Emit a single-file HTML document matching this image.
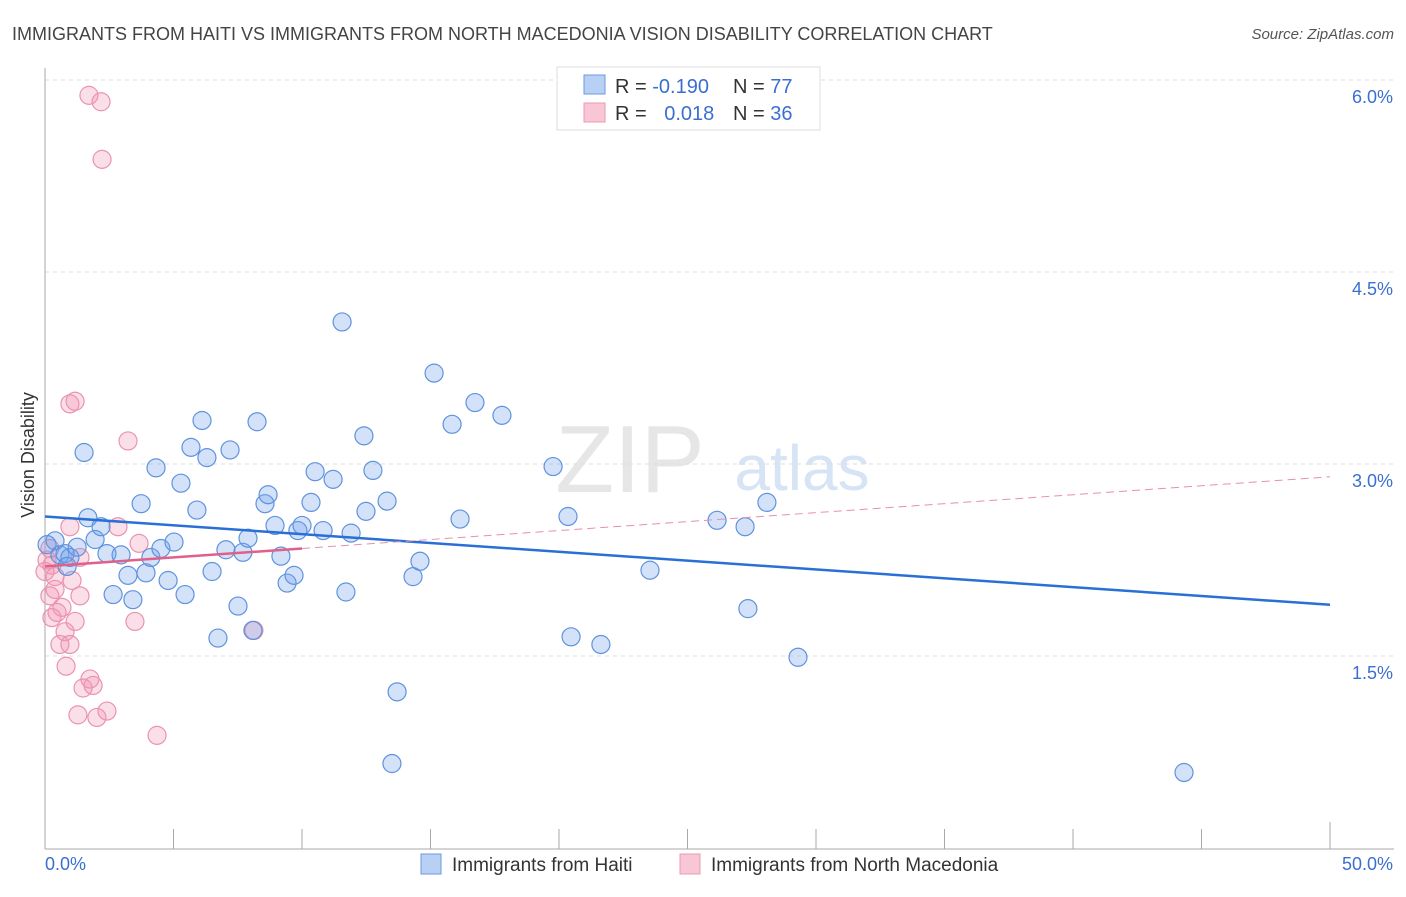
<!DOCTYPE html>
<html><head><meta charset="utf-8"><style>
body{margin:0;background:#fff;font-family:"Liberation Sans",sans-serif;}
svg text{font-family:"Liberation Sans",sans-serif;}
</style></head><body>
<svg width="1406" height="892" xmlns="http://www.w3.org/2000/svg" id="chart">
<text x="12" y="40" font-size="18" fill="#444">IMMIGRANTS FROM HAITI VS IMMIGRANTS FROM NORTH MACEDONIA VISION DISABILITY CORRELATION CHART</text>
<text x="1394" y="39" font-size="15" fill="#555" font-style="italic" text-anchor="end">Source: ZipAtlas.com</text>
<text x="630" y="492" font-size="96" fill="#e6e6e6" font-family="Liberation Serif" text-anchor="middle">ZIP</text>
<text x="802" y="490" font-size="64" fill="#d6e4f5" text-anchor="middle">atlas</text>
<g id="grid"></g>
<g id="axes"></g>
<g id="marks"></g>
<text transform="translate(34,455) rotate(-90)" font-size="18" fill="#333" text-anchor="middle">Vision Disability</text>
<g>
<rect x="557" y="67" width="263" height="63" fill="#fff" stroke="#ddd"/>
<rect x="584" y="75" width="21" height="19" fill="#b8d0f3" stroke="#6b9ae0"/>
<rect x="584" y="103" width="21" height="19" fill="#f9c6d5" stroke="#eb99b3"/>
<text x="615" y="93" font-size="20" fill="#333">R = <tspan fill="#3a6fd0">-0.190</tspan></text>
<text x="733" y="93" font-size="20" fill="#333">N = <tspan fill="#3a6fd0">77</tspan></text>
<text x="615" y="120" font-size="20" fill="#333">R = <tspan fill="#3a6fd0" dx="12">0.018</tspan></text>
<text x="733" y="120" font-size="20" fill="#333">N = <tspan fill="#3a6fd0">36</tspan></text>
</g>
<g>
<rect x="421" y="854" width="20" height="20" fill="#b8d0f3" stroke="#6b9ae0"/>
<text x="452" y="871" font-size="19" fill="#333">Immigrants from Haiti</text>
</g>
<g>
<rect x="680" y="854" width="20" height="20" fill="#f9c6d5" stroke="#eb99b3"/>
<text x="711" y="871" font-size="19" fill="#333">Immigrants from North Macedonia</text>
</g>
</svg>
<script>
const yTicks=[1.5,3.0,4.5,6.0];
const yTickLabels=["1.5%","3.0%","4.5%","6.0%"];
const xTicks=[0,5,10,15,20,25,30,35,40,45,50];
const haitiX=[0.39,0.08,0.58,0.78,0.97,0.86,1.25,1.52,1.67,1.95,2.18,2.41,2.65,2.96,3.23,3.42,3.74,3.93,4.12,4.32,4.51,4.79,5.02,5.29,5.45,5.68,5.91,6.11,6.30,6.50,6.73,7.20,7.04,7.51,7.70,7.90,8.09,8.25,8.56,8.68,8.95,9.18,9.42,9.69,9.84,10.00,10.35,10.51,10.82,11.21,11.56,11.71,11.91,12.41,12.49,12.76,13.31,13.50,13.70,14.32,14.59,15.14,15.84,16.15,16.73,17.78,19.77,20.35,20.47,21.63,23.54,26.15,27.24,27.35,28.09,29.30,44.32];
const haitiY=[2.40,2.37,2.29,2.30,2.27,2.20,2.35,3.09,2.58,2.41,2.51,2.30,1.98,2.29,2.13,1.94,2.69,2.15,2.27,2.97,2.34,2.09,2.39,2.85,1.98,3.13,2.64,3.34,3.05,2.16,1.64,3.11,2.33,1.89,2.31,2.42,1.70,3.33,2.69,2.76,2.52,2.28,2.07,2.13,2.48,2.52,2.70,2.94,2.48,2.88,4.11,2.00,2.46,3.22,2.63,2.95,2.71,0.66,1.22,2.12,2.24,3.71,3.31,2.57,3.48,3.38,2.98,2.59,1.65,1.59,2.17,2.56,2.51,1.87,2.70,1.49,0.59];
const macX=[1.71,2.18,2.22,0.97,1.17,3.23,0.97,2.84,3.66,0.19,1.36,0.27,0.39,1.05,0.19,1.36,0.66,0.47,0.27,1.17,3.50,0.78,0.58,0.97,0.82,1.75,1.87,1.48,1.28,2.02,2.41,4.36,8.13,0.00,0.39,0.08];
const macY=[5.88,5.83,5.38,3.47,3.49,3.18,2.51,2.51,2.38,2.34,2.27,2.21,2.12,2.09,1.97,1.97,1.88,1.84,1.80,1.77,1.77,1.69,1.59,1.59,1.42,1.32,1.27,1.25,1.04,1.02,1.07,0.88,1.70,2.16,2.02,2.25];
const haitiTrend=[2.59,1.90];
const macTrend=[2.20,2.90];
const macSolidEnd=10;

const NS="http://www.w3.org/2000/svg";
const sx=v=>45+v/50*1285;
const sy=v=>848-v*128;
function mk(tag,attrs,parent){const e=document.createElementNS(NS,tag);for(const k in attrs)e.setAttribute(k,attrs[k]);parent.appendChild(e);return e;}
const grid=document.getElementById('grid'),axes=document.getElementById('axes'),marks=document.getElementById('marks');
yTicks.forEach((t,i)=>{
 const l=mk('line',{x1:45,x2:1394,y1:sy(t),y2:sy(t),stroke:'#ddd','stroke-dasharray':'4,4'},grid);
 
 
 const tx=mk('text',{x:1393,y:sy(t)+23,'font-size':18,fill:'#3a6fd0','text-anchor':'end'},grid);
 tx.textContent=yTickLabels[i];
 
 
});
const ya=mk('line',{x1:45,x2:45,y1:68,y2:849,stroke:'#aaa'},axes);


const xa=mk('line',{x1:45,x2:1394,y1:849,y2:849,stroke:'#aaa'},axes);


xTicks.forEach((t,i)=>{
 const tk=mk('line',{x1:sx(t),x2:sx(t),y1:849,y2:(i==0||i==xTicks.length-1)?822:829,stroke:'#aaa'},axes);
 
 
});
const xl0=mk('text',{x:45,y:870,'font-size':18,fill:'#3a6fd0'},axes);xl0.textContent='0.0%';


const xl1=mk('text',{x:1393,y:870,'font-size':18,fill:'#3a6fd0','text-anchor':'end'},axes);xl1.textContent='50.0%';


macX.forEach((x,i)=>{
 const c=mk('circle',{cx:sx(x),cy:sy(macY[i]),r:9,fill:'rgba(242,150,180,0.3)',stroke:'#eb93ae','stroke-width':1.2},marks);
 
 
});
haitiX.forEach((x,i)=>{
 const c=mk('circle',{cx:sx(x),cy:sy(haitiY[i]),r:9,fill:'rgba(110,160,235,0.3)',stroke:'#5f93dd','stroke-width':1.2},marks);
 
 
});
const bt=mk('line',{x1:sx(0),y1:sy(haitiTrend[0]),x2:sx(50),y2:sy(haitiTrend[1]),stroke:'#2a6fd6','stroke-width':2.5},marks);


const mEnd=macTrend[0]+(macTrend[1]-macTrend[0])*macSolidEnd/50;
const pt=mk('line',{x1:sx(0),y1:sy(macTrend[0]),x2:sx(macSolidEnd),y2:sy(mEnd),stroke:'#e0608a','stroke-width':2.5},marks);


const pd=mk('line',{x1:sx(macSolidEnd),y1:sy(mEnd),x2:sx(50),y2:sy(macTrend[1]),stroke:'#e690aa','stroke-width':1,'stroke-dasharray':'8,5'},marks);


</script>
</body></html>
